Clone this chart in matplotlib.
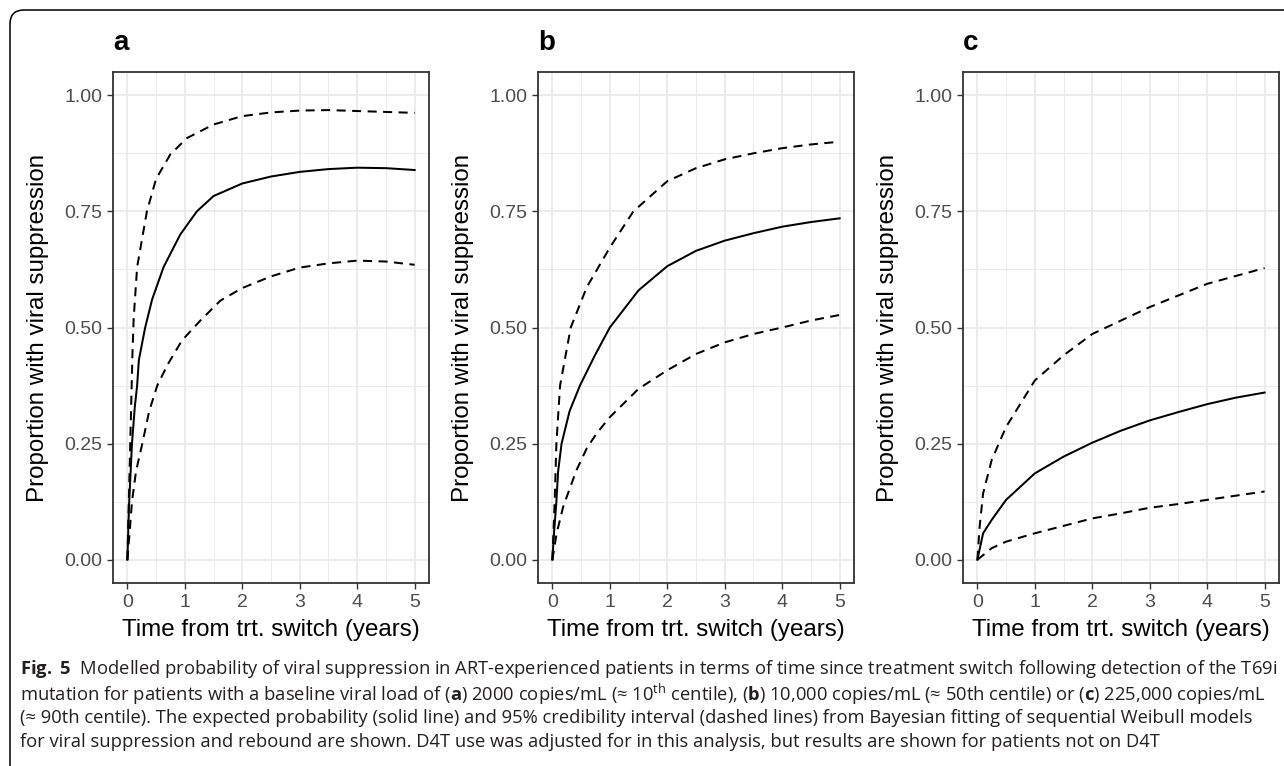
import matplotlib
matplotlib.use("Agg")
import matplotlib.pyplot as plt
from matplotlib import font_manager
from matplotlib.patches import FancyBboxPatch
from matplotlib.transforms import IdentityTransform
from matplotlib.ticker import MultipleLocator, FixedLocator

# ---------------- data ----------------
panel_labels = ["a", "b", "c"]

a_mean_x = [0, 0.03, 0.08, 0.13, 0.17, 0.2, 0.31, 0.43, 0.63, 0.92, 1.21, 1.5, 2, 2.5, 3, 3.5, 4, 4.5, 5]
a_mean_y = [0, 0.12, 0.25, 0.33, 0.375, 0.43, 0.50, 0.56, 0.63, 0.70, 0.75, 0.783, 0.81, 0.825, 0.835, 0.841, 0.844, 0.843, 0.839]
a_up_x = [0, 0.03, 0.06, 0.09, 0.11, 0.17, 0.34, 0.5, 0.75, 1.04, 1.5, 2, 2.5, 3, 3.5, 4, 4.5, 5]
a_up_y = [0, 0.15, 0.30, 0.45, 0.52, 0.63, 0.75, 0.82, 0.873, 0.908, 0.937, 0.955, 0.963, 0.967, 0.968, 0.966, 0.964, 0.962]
a_lo_x = [0, 0.04, 0.08, 0.15, 0.26, 0.38, 0.52, 0.7, 0.95, 1.27, 1.62, 2, 2.5, 3, 3.5, 4, 4.5, 5]
a_lo_y = [0, 0.06, 0.125, 0.19, 0.25, 0.32, 0.375, 0.42, 0.472, 0.515, 0.558, 0.585, 0.610, 0.629, 0.638, 0.644, 0.642, 0.635]

b_mean_x = [0, 0.03, 0.07, 0.1, 0.16, 0.3, 0.48, 0.74, 1, 1.5, 2, 2.5, 3, 3.5, 4, 4.5, 5]
b_mean_y = [0, 0.06, 0.125, 0.19, 0.25, 0.32, 0.375, 0.44, 0.50, 0.58, 0.632, 0.665, 0.687, 0.703, 0.717, 0.727, 0.735]
b_up_x = [0, 0.04, 0.07, 0.134, 0.32, 0.6, 1, 1.41, 2, 2.5, 3, 3.5, 4, 4.5, 5]
b_up_y = [0, 0.125, 0.25, 0.375, 0.50, 0.587, 0.672, 0.75, 0.815, 0.843, 0.862, 0.875, 0.886, 0.894, 0.90]
b_lo_x = [0, 0.075, 0.19, 0.42, 0.6, 0.77, 1, 1.5, 2, 2.5, 3, 3.5, 4, 4.5, 5]
b_lo_y = [0, 0.057, 0.115, 0.193, 0.24, 0.272, 0.307, 0.368, 0.408, 0.443, 0.468, 0.486, 0.50, 0.515, 0.527]

c_mean_x = [0, 0.1, 0.25, 0.5, 1, 1.5, 2, 2.5, 3, 3.5, 4, 4.5, 5]
c_mean_y = [0, 0.057, 0.086, 0.129, 0.186, 0.222, 0.252, 0.278, 0.30, 0.318, 0.335, 0.349, 0.36]
c_up_x = [0, 0.04, 0.1, 0.25, 0.5, 1, 1.5, 2, 2.5, 3, 3.5, 4, 4.5, 5]
c_up_y = [0, 0.072, 0.143, 0.215, 0.286, 0.386, 0.44, 0.486, 0.515, 0.544, 0.569, 0.594, 0.611, 0.628]
c_lo_x = [0, 0.25, 0.5, 1, 1.5, 2, 2.5, 3, 3.5, 4, 4.5, 5]
c_lo_y = [0, 0.025, 0.039, 0.057, 0.073, 0.089, 0.100, 0.112, 0.12, 0.129, 0.138, 0.147]

x_ticks = [0, 1, 2, 3, 4, 5]
y_ticks = [0.0, 0.25, 0.5, 0.75, 1.0]
y_tick_labels = ["0.00", "0.25", "0.50", "0.75", "1.00"]
x_title = "Time from trt. switch (years)"
y_title = "Proportion with viral suppression"

caption_lines = [
    r"$\mathbf{Fig.\ 5}$  Modelled probability of viral suppression in ART-experienced patients in terms of time since treatment switch following detection of the T69i",
    r"mutation for patients with a baseline viral load of ($\mathbf{a}$) 2000 copies/mL (≈ 10$^{\mathrm{th}}$ centile), ($\mathbf{b}$) 10,000 copies/mL (≈ 50th centile) or ($\mathbf{c}$) 225,000 copies/mL",
    r"(≈ 90th centile). The expected probability (solid line) and 95% credibility interval (dashed lines) from Bayesian fitting of sequential Weibull models",
    r"for viral suppression and rebound are shown. D4T use was adjusted for in this analysis, but results are shown for patients not on D4T",
]

panels = [
    (a_mean_x, a_mean_y, a_up_x, a_up_y, a_lo_x, a_lo_y),
    (b_mean_x, b_mean_y, b_up_x, b_up_y, b_lo_x, b_lo_y),
    (c_mean_x, c_mean_y, c_up_x, c_up_y, c_lo_x, c_lo_y),
]

# ---------------- fonts ----------------
available = {f.name for f in font_manager.fontManager.ttflist}
cap_font = next((f for f in ["Liberation Sans Narrow", "Open Sans", "Noto Sans", "DejaVu Sans"] if f in available), "DejaVu Sans")
plot_font = next((f for f in ["Liberation Sans", "Arimo", "DejaVu Sans"] if f in available), "DejaVu Sans")

plt.rcParams["font.family"] = [plot_font, "DejaVu Sans"]
plt.rcParams["mathtext.fontset"] = "custom"
plt.rcParams["mathtext.rm"] = cap_font
plt.rcParams["mathtext.bf"] = cap_font + ":bold"
plt.rcParams["mathtext.it"] = cap_font + ":italic"

W, H = 1284, 766
fig = plt.figure(figsize=(W / 100, H / 100), dpi=100)

def px_axes(left, top, right, bottom):
    return fig.add_axes([left / W, 1 - bottom / H, (right - left) / W, (bottom - top) / H])

lefts = [113, 538, 963]
ax_w = 316
ax_top, ax_bot = 72, 583

grey20 = "#333333"
grey30 = "#4D4D4D"
grid_c = "#EBEBEB"

for i, (mx, my, ux, uy, lx, ly) in enumerate(panels):
    L = lefts[i]
    ax = px_axes(L, ax_top, L + ax_w, ax_bot)
    ax.set_xlim(-0.25, 5.25)
    ax.set_ylim(-0.05, 1.05)
    ax.xaxis.set_major_locator(FixedLocator(x_ticks))
    ax.yaxis.set_major_locator(FixedLocator(y_ticks))
    ax.set_yticklabels(y_tick_labels)
    ax.xaxis.set_minor_locator(MultipleLocator(0.5))
    ax.yaxis.set_minor_locator(FixedLocator([-0.125, 0.125, 0.375, 0.625, 0.875]))
    ax.grid(which="major", color=grid_c, lw=1.3, zorder=0)
    ax.grid(which="minor", color=grid_c, lw=0.7, zorder=0)
    ax.set_axisbelow(True)
    ax.tick_params(which="major", length=4.4, width=1.0, color=grey20, pad=3.5,
                   labelsize=14, labelcolor=grey30)
    ax.tick_params(which="minor", length=0)
    for s in ax.spines.values():
        s.set_color(grey20)
        s.set_linewidth(1.3)

    ax.plot(ux, uy, color="black", lw=1.45, linestyle=(0, (4.5, 3.2)), solid_capstyle="butt")
    ax.plot(lx, ly, color="black", lw=1.45, linestyle=(0, (4.5, 3.2)), solid_capstyle="butt")
    ax.plot(mx, my, color="black", lw=1.45, solid_joinstyle="round")

    fig.text((L - 75) / W, 1 - 327.5 / H, y_title, rotation=90, ha="center", va="center",
             fontsize=17.4, color="black")
    fig.text((L + ax_w / 2 + 0) / W, 1 - 630 / H, x_title, ha="center", va="center",
             fontsize=17.4, color="black")
    fig.text(L / W, 1 - 43 / H, panel_labels[i], ha="left", va="center",
             fontsize=20, fontweight="bold", color="black")

# outer rounded frame
frame = FancyBboxPatch((10, -30), 1300, 766 - 10 + 30,
                       boxstyle="round,pad=0,rounding_size=14",
                       transform=IdentityTransform(), fill=False,
                       edgecolor="black", lw=1.1)
fig.patches.append(frame)

# caption
cap_y = [669, 694, 718, 742]
cap_texts = []
for yy, line in zip(cap_y, caption_lines):
    t = fig.text(20 / W, 1 - yy / H, line, ha="left", va="center",
                 fontsize=12, family=[cap_font, "DejaVu Sans"], color="#231F20")
    cap_texts.append(t)

fig.canvas.draw()
r = fig.canvas.get_renderer()
w1 = cap_texts[0].get_window_extent(r).width
scale = (1273 - 20) / w1
for t in cap_texts:
    t.set_fontsize(12 * scale)

fig.savefig("out.png", dpi=100)
